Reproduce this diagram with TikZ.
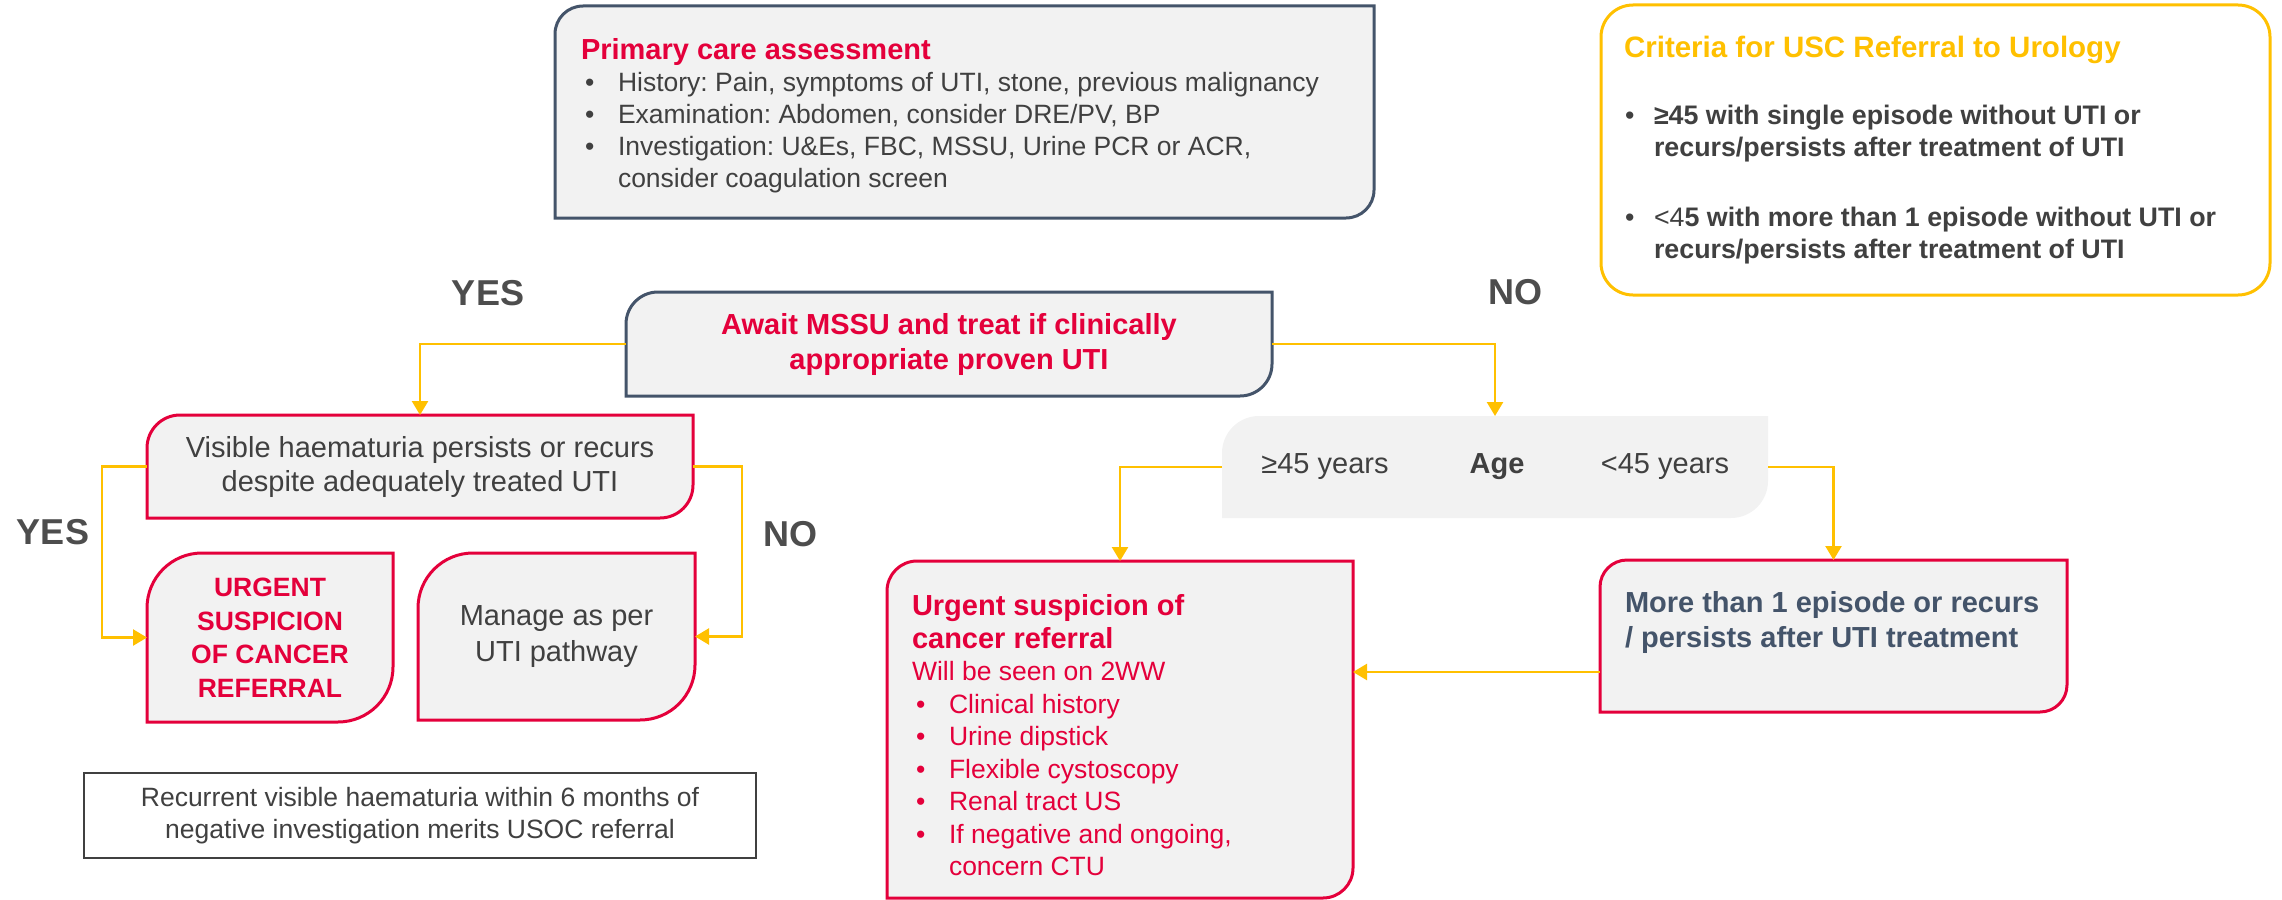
\documentclass[tikz,border=0pt]{standalone}
\usepackage{fontspec}
\setmainfont{Liberation Sans}
\usetikzlibrary{arrows.meta,backgrounds,calc}
\definecolor{cred}{HTML}{E4003B}
\definecolor{cyel}{HTML}{FFC000}
\definecolor{cblue}{HTML}{44546A}
\definecolor{cgray}{HTML}{404040}
\definecolor{cfill}{HTML}{F2F2F2}
\definecolor{clab}{HTML}{4D4D4D}
\newcommand\dgbox[3]{%
  \path[#3] (#1.south west) -- ([yshift=-#2]#1.north west)
    arc[start angle=180,end angle=90,radius=#2] -- (#1.north east)
    -- ([yshift=#2]#1.south east) arc[start angle=0,end angle=-90,radius=#2] -- cycle;}
\newcommand\bul[2]{\makebox[#1][l]{\hspace{#2}•}}
\frenchspacing
\tikzset{
  box/.style={inner sep=0pt, outer sep=0pt, draw=none},
  txt/.style={inner sep=0pt, outer sep=0pt, anchor=north west, align=left},
  conn/.style={draw=cyel, line width=2.5pt, -{Triangle[length=14pt,width=16pt]}},
  lab/.style={font=\fontsize{36}{40}\selectfont\bfseries, text=clab, inner sep=0pt},
  boxred/.style={draw=cred, line width=3pt, fill=cfill},
  boxblue/.style={draw=cblue, line width=3pt, fill=cfill}
}
\begin{document}
\begin{tikzpicture}[x=1pt,y=1pt]
\useasboundingbox (0,0) rectangle (2282,-899);

% primary care
\node[box, minimum width=819pt, minimum height=212pt] (prim) at (964.5,-112) {};
\node[txt, text=cgray, font=\fontsize{26.5}{32}\selectfont\frenchspacing] (primtxt) at (581,-38)
{{\fontsize{29}{32}\selectfont\bfseries\color{cred}Primary care assessment}\\
\bul{37pt}{4pt}History: Pain, symptoms of UTI, stone, previous malignancy\\
\bul{37pt}{4pt}Examination: Abdomen, consider DRE/PV, BP\\
\bul{37pt}{4pt}Investigation: U\&Es, FBC, MSSU, Urine PCR or ACR,\\
\makebox[37pt]{}consider coagulation screen};

% criteria
\node[box, minimum width=669pt, minimum height=290pt] (crit) at (1935.5,-150) {};
\node[txt, text=cgray, font=\fontsize{26.8}{32}\selectfont\bfseries] (crittxt) at (1624,-36.5)
{{\fontsize{29.5}{32}\selectfont\color{cyel}Criteria for USC Referral to Urology}\\[35pt]
{\mdseries\bul{30pt}{1pt}}≥45 with single episode without UTI or\\
\makebox[30pt]{}recurs/persists after treatment of UTI\\[38pt]
{\mdseries\bul{30pt}{1pt}<4}5 with more than 1 episode without UTI or\\
\makebox[30pt]{}recurs/persists after treatment of UTI};

% MSSU
\node[box, minimum width=646pt, minimum height=104pt, align=center, text=cred,
  font=\fontsize{29}{35}\selectfont\bfseries] (mssu) at (949,-344)
{Await MSSU and treat if clinically\\appropriate proven UTI};

% visible haematuria
\node[box, minimum width=546pt, minimum height=103pt, align=center, text=cgray,
  font=\fontsize{29}{34}\selectfont] (vis) at (420,-466.5)
{Visible haematuria persists or recurs\\despite adequately treated UTI};

% urgent small
\node[box, minimum width=246pt, minimum height=169pt, align=center, text=cred,
  font=\fontsize{26.5}{33.5}\selectfont\bfseries] (urg) at (270,-637.5)
{URGENT\\SUSPICION\\OF CANCER\\REFERRAL};

% manage
\node[box, minimum width=277pt, minimum height=167pt, align=center, text=cgray,
  font=\fontsize{29}{36}\selectfont] (man) at (556.5,-636.5)
{Manage as per\\UTI pathway};

% note
\node[box, draw=cgray, line width=1.8pt, minimum width=672pt, minimum height=85pt, align=center, text=cgray,
  font=\fontsize{26.5}{32}\selectfont] (note) at (420,-815.5)
{Recurrent visible haematuria within 6 months of\\negative investigation merits USOC referral};

% age
\node[box, minimum width=546pt, minimum height=102pt, text=cgray,
  font=\fontsize{29}{34}\selectfont] (age) at (1495,-467)
{\makebox[0pt]{≥45 years}\hspace{172pt}\makebox[0pt]{\bfseries Age}\hspace{168pt}\makebox[0pt]{<45 years}};

% big urgent
\node[box, minimum width=466pt, minimum height=337pt] (big) at (1120,-729.5) {};
\node[txt, text=cred, font=\fontsize{26.5}{32.5}\selectfont] (bigtxt) at (912,-594.5)
{{\fontsize{29}{32.5}\selectfont\bfseries Urgent suspicion of}\\
{\fontsize{29}{32.5}\selectfont\bfseries cancer referral}\\
Will be seen on 2WW\\
\bul{37pt}{4pt}Clinical history\\
\bul{37pt}{4pt}Urine dipstick\\
\bul{37pt}{4pt}Flexible cystoscopy\\
\bul{37pt}{4pt}Renal tract US\\
\bul{37pt}{4pt}If negative and ongoing,\\
\makebox[37pt]{}concern CTU};

% more than 1
\node[box, minimum width=467pt, minimum height=152pt] (more) at (1833.5,-636) {};
\node[txt, text=cblue, font=\fontsize{29}{35}\selectfont\bfseries] (moretxt) at (1625,-591.5)
{More than 1 episode or recurs\\/ persists after UTI treatment};

% labels
\node[lab] (yes1) at (488,-293) {YES};
\node[lab] (no1) at (1515,-292) {NO};
\node[lab] (yes2) at (53,-532) {YES};
\node[lab] (no2) at (790,-534) {NO};

\begin{pgfonlayer}{background}
\dgbox{prim}{28pt}{boxblue}
\draw[cyel, line width=3pt, rounded corners=32pt, fill=white] (crit.south west) rectangle (crit.north east);
\dgbox{mssu}{32pt}{boxblue}
\dgbox{vis}{33pt}{boxred}
\dgbox{urg}{55pt}{boxred}
\dgbox{man}{55pt}{boxred}
\dgbox{age}{37pt}{fill=cfill}
\dgbox{big}{30pt}{boxred}
\dgbox{more}{27pt}{boxred}
\end{pgfonlayer}

% connectors
\draw[conn] (mssu.west) -| (vis.north);
\draw[conn] (mssu.east) -| (age.north);
\draw[conn] (vis.west) -- ++(-45,0) |- (urg.west);
\draw[conn] (vis.east) -- ++(49,0) |- (man.east);
\draw[conn] (age.west) -| (big.north);
\draw[conn] (age.east) -| (more.north);
\draw[conn] ([yshift=-36pt]more.west) -- ([yshift=-36pt]more.west -| big.east);
\end{tikzpicture}
\end{document}
